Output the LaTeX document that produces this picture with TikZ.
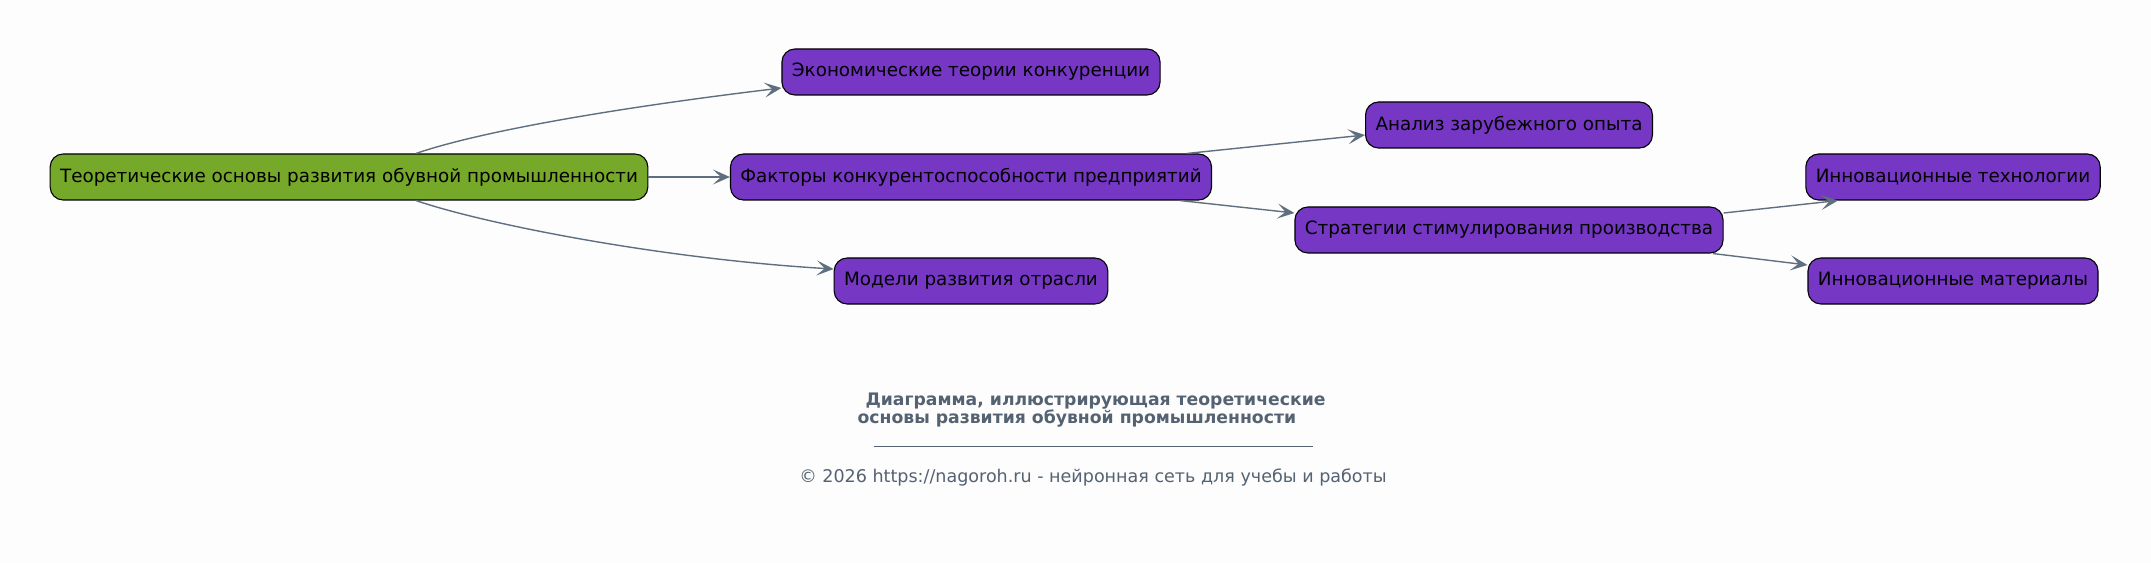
\documentclass[tikz,border=0pt]{standalone}
\usepackage{fontspec}
\setmainfont{DejaVu Sans}
\usepackage{xcolor}
\usetikzlibrary{shapes,arrows.meta,positioning}
\definecolor{pagebg}{RGB}{253,253,253}
\definecolor{rootgreen}{RGB}{118,168,42}
\definecolor{topicviolet}{RGB}{117,55,196}
\definecolor{edgegray}{RGB}{95,111,127}
\definecolor{capgray}{RGB}{84,98,114}

\begin{document}
\begin{tikzpicture}[x=1bp, y=-1bp,
                   box/.style={draw=black, line width=1.1pt, rounded corners=13pt,
                               fill=topicviolet, minimum height=46bp, inner xsep=10pt,
                               font=\fontsize{18.4}{21}\selectfont},
                   rootbox/.style={box, fill=rootgreen},
                   link/.style={draw=edgegray, line width=1.4pt,
                                -{Stealth[length=17pt,width=15pt,inset=8pt]}}]
          % background and bounds
          \fill[pagebg] (0,0) rectangle (2151,563);
          \useasboundingbox (0,0) rectangle (2151,563);
          \node[rootbox] (root) at (349,177) {Теоретические основы развития обувной промышленности};
          \node[box] (econ) at (971,72) {Экономические теории конкуренции};
          \node[box] (factors) at (971,177) {Факторы конкурентоспособности предприятий};
          \node[box] (models) at (971,281) {Модели развития отрасли};
          \node[box] (abroad) at (1509,125) {Анализ зарубежного опыта};
          \node[box] (strategy) at (1509,230) {Стратегии стимулирования производства};
          \node[box] (innotech) at (1953,177) {Инновационные технологии};
          \node[box] (innomat) at (1953,281) {Инновационные материалы};
          % connectors
          \draw[link] ([xshift=67bp]root.north) .. controls +(70,-24) and +(-150,18) .. ([yshift=-16bp]econ.west);
          \draw[link] (root.east) -- (factors.west);
          \draw[link] ([xshift=67bp]root.south) .. controls +(70,24) and +(-170,-10) .. ([yshift=12bp]models.west);
          \draw[link] ([xshift=216bp]factors.north) -- ([yshift=-10bp]abroad.west);
          \draw[link] ([xshift=209bp]factors.south) -- ([yshift=17bp]strategy.west);
          \draw[link] ([yshift=17bp]strategy.east) -- ([xshift=-115bp]innotech.south);
          \draw[link] ([xshift=204bp]strategy.south) -- ([yshift=16bp]innomat.west);
          % caption
          \node[anchor=west, text=capgray, font=\bfseries\fontsize{17.3}{19}\selectfont] (title1) at (862,401) {Диаграмма, иллюстрирующая теоретические};
          \node[anchor=west, text=capgray, font=\bfseries\fontsize{17.3}{19}\selectfont] (title2) at (854,419) {основы развития обувной промышленности};
          \draw[capgray, line width=0.8pt] (874,446) -- (1313,446);
          \node[text=capgray, font=\fontsize{17.6}{19}\selectfont] (copyright) at (1093,478) {© 2026 https://nagoroh.ru - нейронная сеть для учебы и работы};
\end{tikzpicture}
\end{document}
